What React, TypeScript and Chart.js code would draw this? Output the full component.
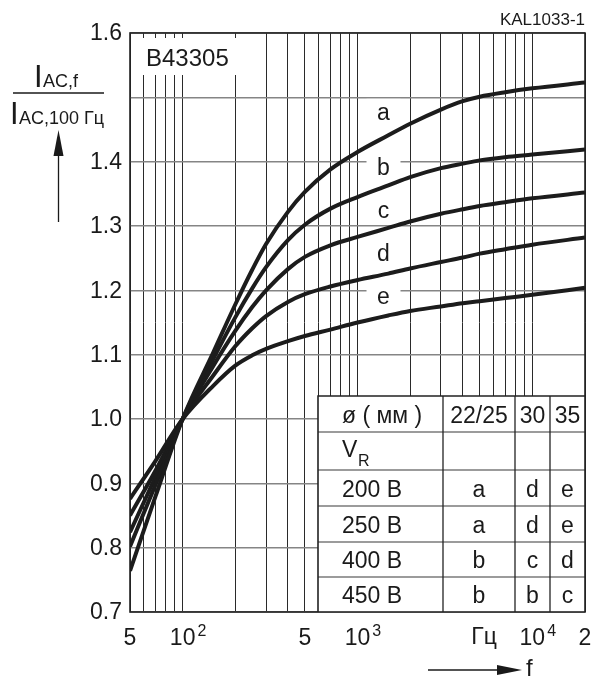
import React, { useEffect, useRef } from 'react';
import { Chart, registerables } from 'chart.js';

Chart.register(...registerables);

// ---------- data ----------
const FREQS = [50, 70, 100, 150, 200, 250, 300, 400, 500, 700, 1000, 1500, 2000, 3000, 4000, 5000, 7000, 10000, 20000];
const CURVE_A = [0.764, 0.880, 1.0, 1.104, 1.178, 1.232, 1.272, 1.322, 1.353, 1.388, 1.415, 1.441, 1.459, 1.481, 1.494, 1.501, 1.508, 1.514, 1.523];
const CURVE_B = [0.802, 0.898, 1.0, 1.094, 1.158, 1.203, 1.236, 1.278, 1.302, 1.327, 1.345, 1.363, 1.376, 1.390, 1.397, 1.402, 1.407, 1.411, 1.419];
const CURVE_C = [0.824, 0.910, 1.0, 1.083, 1.137, 1.174, 1.200, 1.233, 1.252, 1.270, 1.283, 1.297, 1.307, 1.319, 1.326, 1.331, 1.337, 1.343, 1.352];
const CURVE_D = [0.850, 0.920, 1.0, 1.068, 1.113, 1.141, 1.160, 1.182, 1.194, 1.206, 1.216, 1.226, 1.234, 1.244, 1.251, 1.257, 1.264, 1.271, 1.282];
const CURVE_E = [0.876, 0.935, 1.0, 1.052, 1.083, 1.099, 1.109, 1.121, 1.129, 1.139, 1.150, 1.161, 1.168, 1.175, 1.180, 1.183, 1.188, 1.193, 1.204];
const CURVES = [CURVE_A, CURVE_B, CURVE_C, CURVE_D, CURVE_E];
const CURVE_NAMES = ['a', 'b', 'c', 'd', 'e'];
const CURVE_LABEL_F = 1390;
const CURVE_LABEL_Y = [1.465, 1.380, 1.313, 1.246, 1.178];

const X_GRID = [50, 60, 70, 80, 90, 100, 200, 300, 400, 500, 600, 700, 800, 900, 1000,
  2000, 3000, 4000, 5000, 6000, 7000, 8000, 9000, 10000, 20000];
const X_TICK_VALUES = [50, 100, 500, 1000, 10000, 20000];
const X_TICK_BASES = ['5', '10', '5', '10', '10', '2'];
const X_TICK_EXPS = ['', '2', '', '3', '4', ''];
const X_UNIT = 'Гц';
const X_UNIT_F = 5300;

const Y_GRID = [0.7, 0.8, 0.9, 1.0, 1.1, 1.2, 1.3, 1.4, 1.5, 1.6];
const Y_TICK_VALUES = [0.7, 0.8, 0.9, 1.0, 1.1, 1.2, 1.3, 1.4, 1.6];

const TABLE_HEAD = ['ø ( мм )', '22/25', '30', '35'];
const TABLE_VOLTAGES = ['200 В', '250 В', '400 В', '450 В'];
const TABLE_D22 = ['a', 'a', 'b', 'b'];
const TABLE_D30 = ['d', 'd', 'c', 'b'];
const TABLE_D35 = ['e', 'e', 'd', 'c'];

const TITLE = 'B43305';
const CODE = 'KAL1033-1';

const FONT = '"Liberation Sans", Arial, Helvetica, sans-serif';
const INK = '#1a1a1a';

const overlay = {
  id: 'overlay',
  beforeDatasetsDraw(chart: any) {
    const { ctx, chartArea: ca, scales } = chart;
    const xs = scales.x;
    const ys = scales.y;
    ctx.save();
    ctx.fillStyle = INK;
    ctx.strokeStyle = INK;

    // title box
    ctx.fillStyle = '#fff';
    ctx.fillRect(ca.left + 1, 38, 109, 37);
    ctx.fillStyle = INK;
    ctx.font = `24px ${FONT}`;
    ctx.textAlign = 'left';
    ctx.textBaseline = 'alphabetic';
    ctx.fillText(TITLE, 146, 66);

    // curve letters
    const lx = xs.getPixelForValue(CURVE_LABEL_F);
    ctx.font = `23px ${FONT}`;
    ctx.textAlign = 'center';
    CURVE_NAMES.forEach((n, i) => {
      const by = ys.getPixelForValue(CURVE_LABEL_Y[i]);
      ctx.fillStyle = '#fff';
      ctx.fillRect(lx - 16, by - 21, 34, 26);
      ctx.fillStyle = INK;
      ctx.fillText(n, lx + 1, by);
    });

    // table
    const colW = [125, 72, 35, 35];
    const rowH = [36, 38, 36, 36, 35, 35];
    const tw = colW.reduce((a, b) => a + b, 0);
    const th = rowH.reduce((a, b) => a + b, 0);
    const tx = ca.right - tw;
    const ty = ca.bottom - th;
    ctx.fillStyle = '#fff';
    ctx.fillRect(tx, ty, tw, th);
    const colX: number[] = [tx];
    colW.forEach((w) => colX.push(colX[colX.length - 1] + w));
    const rowY: number[] = [ty];
    rowH.forEach((h) => rowY.push(rowY[rowY.length - 1] + h));
    ctx.strokeStyle = '#7a7a7a';
    ctx.lineWidth = 1.5;
    for (let r = 1; r < rowY.length - 1; r++) {
      ctx.beginPath();
      ctx.moveTo(tx, rowY[r]);
      ctx.lineTo(tx + tw, rowY[r]);
      ctx.stroke();
    }
    ctx.strokeStyle = '#222';
    ctx.lineWidth = 1.3;
    for (let c = 1; c < colX.length - 1; c++) {
      ctx.beginPath();
      ctx.moveTo(colX[c], ty);
      ctx.lineTo(colX[c], ty + th);
      ctx.stroke();
    }
    ctx.lineWidth = 1.6;
    ctx.beginPath();
    ctx.moveTo(tx, ty + th);
    ctx.lineTo(tx, ty);
    ctx.lineTo(tx + tw, ty);
    ctx.stroke();

    const cellText = (txt: string, c: number, r: number, align: 'left' | 'center') => {
      const cy = (rowY[r] + rowY[r + 1]) / 2 + 8.5;
      ctx.textAlign = align;
      const cx = align === 'left' ? colX[c] + 24 : (colX[c] + colX[c + 1]) / 2;
      ctx.fillText(txt, cx, cy);
    };
    ctx.fillStyle = INK;
    ctx.font = `23px ${FONT}`;
    TABLE_HEAD.forEach((t, c) => cellText(t, c, 0, c === 0 ? 'left' : 'center'));
    ctx.textAlign = 'left';
    ctx.fillText('V', colX[0] + 24, rowY[1] + 25);
    ctx.font = `16px ${FONT}`;
    ctx.fillText('R', colX[0] + 40, rowY[1] + 34);
    ctx.font = `23px ${FONT}`;
    TABLE_VOLTAGES.forEach((v, i) => {
      cellText(v, 0, i + 2, 'left');
      cellText(TABLE_D22[i], 1, i + 2, 'center');
      cellText(TABLE_D30[i], 2, i + 2, 'center');
      cellText(TABLE_D35[i], 3, i + 2, 'center');
    });

    // frame
    ctx.strokeStyle = '#222';
    ctx.lineWidth = 1.6;
    ctx.strokeRect(ca.left, ca.top, ca.right - ca.left, ca.bottom - ca.top);

    // y tick labels
    ctx.fillStyle = INK;
    ctx.font = `23px ${FONT}`;
    ctx.textAlign = 'right';
    ctx.textBaseline = 'middle';
    Y_TICK_VALUES.forEach((v) => {
      ctx.fillText(v.toFixed(1), ca.left - 8, ys.getPixelForValue(v) + 1);
    });

    // x tick labels
    ctx.textBaseline = 'alphabetic';
    const xb = ca.bottom + 33;
    X_TICK_VALUES.forEach((v, i) => {
      const px = xs.getPixelForValue(v);
      ctx.font = `23px ${FONT}`;
      ctx.textAlign = 'center';
      ctx.fillText(X_TICK_BASES[i], px, xb);
      if (X_TICK_EXPS[i]) {
        const w = ctx.measureText(X_TICK_BASES[i]).width;
        ctx.font = `16px ${FONT}`;
        ctx.textAlign = 'left';
        ctx.fillText(X_TICK_EXPS[i], px + w / 2 + 2, xb - 9);
      }
    });
    ctx.font = `23px ${FONT}`;
    ctx.textAlign = 'center';
    ctx.fillText(X_UNIT, xs.getPixelForValue(X_UNIT_F), xb - 1);

    // x-axis arrow and f
    ctx.strokeStyle = INK;
    ctx.lineWidth = 1.3;
    ctx.beginPath();
    ctx.moveTo(428, 670);
    ctx.lineTo(500, 670);
    ctx.stroke();
    ctx.beginPath();
    ctx.moveTo(522, 670);
    ctx.lineTo(497, 665);
    ctx.lineTo(497, 675);
    ctx.closePath();
    ctx.fill();
    ctx.textAlign = 'left';
    ctx.font = `24px ${FONT}`;
    ctx.fillText('f', 526, 676);

    // y-axis label: fraction
    ctx.font = `31px ${FONT}`;
    ctx.fillText('I', 34, 87);
    ctx.font = `18px ${FONT}`;
    ctx.fillText('AC,f', 43, 87);
    ctx.lineWidth = 1.3;
    ctx.beginPath();
    ctx.moveTo(13, 93);
    ctx.lineTo(104, 93);
    ctx.stroke();
    ctx.font = `31px ${FONT}`;
    ctx.fillText('I', 10, 124);
    ctx.font = `18px ${FONT}`;
    ctx.fillText('AC,100 Гц', 19, 124);
    ctx.beginPath();
    ctx.moveTo(58.5, 222);
    ctx.lineTo(58.5, 150);
    ctx.stroke();
    ctx.beginPath();
    ctx.moveTo(58.5, 130);
    ctx.lineTo(53.5, 156);
    ctx.lineTo(63.5, 156);
    ctx.closePath();
    ctx.fill();

    // code top right
    ctx.font = `17px ${FONT}`;
    ctx.textAlign = 'right';
    ctx.fillText(CODE, ca.right, 25);

    ctx.restore();
  },
};

export default function App() {
  const ref = useRef<HTMLCanvasElement | null>(null);
  useEffect(() => {
    document.body.style.margin = '0';
    const canvas = ref.current;
    if (!canvas) return;
    const chart = new Chart(canvas, {
      type: 'line',
      data: {
        datasets: CURVES.map((c, k) => ({
          label: CURVE_NAMES[k],
          data: FREQS.map((f, i) => ({ x: f, y: c[i] })),
          borderColor: '#1c1c1c',
          borderWidth: 4,
          pointRadius: 0,
          fill: false,
          cubicInterpolationMode: 'monotone' as const,
        })),
      },
      options: {
        responsive: false,
        animation: false,
        devicePixelRatio: 1,
        layout: { padding: { left: 130, right: 7, top: 33, bottom: 65 } },
        plugins: { legend: { display: false }, tooltip: { enabled: false } },
        scales: {
          x: {
            type: 'logarithmic',
            min: 50,
            max: 20000,
            afterBuildTicks: (s: any) => {
              s.ticks = X_GRID.map((v) => ({ value: v }));
            },
            ticks: { display: false },
            grid: { color: '#2a2a2a', lineWidth: 1, drawTicks: false },
            border: { display: false },
          },
          y: {
            type: 'linear',
            min: 0.7,
            max: 1.6,
            afterBuildTicks: (s: any) => {
              s.ticks = Y_GRID.map((v) => ({ value: v }));
            },
            ticks: { display: false },
            grid: { color: '#858585', lineWidth: 1.4, drawTicks: false },
            border: { display: false },
          },
        },
      },
      plugins: [overlay],
    } as any);
    return () => chart.destroy();
  }, []);
  return (
    <div style={{ position: 'fixed', left: 0, top: 0, width: 592, height: 677, background: '#fff' }}>
      <canvas ref={ref} width={592} height={677} style={{ width: 592, height: 677 }} />
    </div>
  );
}
